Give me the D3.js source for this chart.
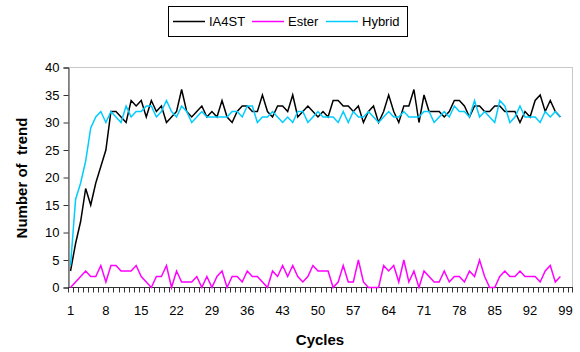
<!DOCTYPE html>
<html>
<head>
<meta charset="utf-8">
<script src="https://cdn.jsdelivr.net/npm/d3@7"></script>
<style>
    body { margin: 0; background: #fff; }
    svg { display: block; font-family: "Liberation Sans", Arial, sans-serif; }
</style>
</head>
<body>
<div id="chart"></div>
<script>
// category axis has 100 slots, the series fill the first 98
const cycles = d3.range(1, 101);
const tickLabels = ["1", "8", "15", "22", "29", "36", "43", "50", "57", "64", "71", "78", "85", "92", "99"];
const yTicks = [0, 5, 10, 15, 20, 25, 30, 35, 40];

const ia4st = [
    3, 8, 12, 18, 15, 19, 22, 25, 32, 32,
    31, 30, 34, 33, 34, 31, 34, 32, 33, 30,
    31, 32, 36, 32, 31, 32, 33, 31, 32, 31,
    34, 31, 30, 32, 33, 33, 32, 32, 35, 32,
    31, 33, 33, 32, 35, 31, 32, 33, 32, 31,
    32, 31, 34, 34, 33, 33, 32, 33, 30, 32,
    33, 30, 32, 35, 32, 30, 33, 33, 36, 30,
    35, 32, 32, 32, 31, 32, 34, 34, 33, 31,
    33, 33, 32, 32, 33, 33, 32, 32, 32, 30,
    32, 31, 34, 35, 32, 34, 32, 31
];
const ester = [
    0, 1, 2, 3, 2, 2, 4, 1, 4, 4,
    3, 3, 3, 4, 2, 1, 0, 2, 2, 4,
    0, 3, 1, 1, 1, 2, 0, 2, 0, 2,
    3, 0, 2, 2, 1, 3, 2, 2, 1, 0,
    3, 2, 4, 2, 4, 2, 1, 2, 4, 3,
    3, 3, 0, 1, 4, 1, 1, 5, 1, 0,
    0, 0, 4, 3, 4, 1, 5, 1, 3, 0,
    3, 2, 1, 1, 3, 1, 2, 2, 1, 3,
    2, 5, 2, 0, 0, 2, 3, 2, 2, 3,
    2, 2, 2, 1, 3, 4, 1, 2
];
const hybrid = [
    4, 16, 19, 23, 29, 31, 32, 30, 32, 31,
    30, 33, 31, 32, 32, 33, 33, 31, 32, 34,
    32, 31, 33, 32, 30, 31, 32, 31, 31, 31,
    31, 31, 32, 32, 31, 33, 33, 30, 31, 31,
    32, 31, 30, 31, 30, 32, 32, 30, 31, 32,
    31, 31, 31, 30, 32, 30, 32, 31, 31, 32,
    31, 30, 31, 32, 31, 31, 32, 31, 31, 31,
    32, 32, 30, 31, 32, 31, 33, 32, 32, 31,
    34, 31, 32, 31, 30, 34, 33, 30, 31, 33,
    31, 31, 31, 30, 32, 31, 32, 31
];

const series = [
    { name: "IA4ST", values: ia4st, color: "#000000" },
    { name: "Ester", values: ester, color: "#ff00ff" },
    { name: "Hybrid", values: hybrid, color: "#00ccff" }
];

const width = 580, height = 352;
const margin = { top: 67, right: 7, bottom: 64, left: 68 };

const svg = d3.select("#chart").append("svg")
    .attr("width", width)
    .attr("height", height);

const x = d3.scaleBand().domain(cycles).range([margin.left, width - margin.right]).padding(0);
const y = d3.scaleLinear().domain([0, 40]).range([height - margin.bottom - 0.5, margin.top + 0.5]);
const cx = (i) => x(i) + x.bandwidth() / 2;

// plot area border
svg.append("rect")
    .attr("x", margin.left + 0.5)
    .attr("y", margin.top + 0.5)
    .attr("width", width - margin.left - margin.right - 1)
    .attr("height", height - margin.top - margin.bottom - 1)
    .attr("fill", "none")
    .attr("stroke", "#c8c8c8");

// y axis
const yAxis = svg.append("g")
    .attr("transform", `translate(${margin.left + 0.5},0)`)
    .call(d3.axisLeft(y).tickValues(yTicks).tickSize(5).tickPadding(4));
yAxis.select(".domain").attr("stroke", "#333");
yAxis.selectAll(".tick line").attr("stroke", "#333");
yAxis.selectAll("text").attr("font-size", 13).attr("fill", "#000")
    .attr("font-family", "Liberation Sans, Arial, sans-serif");

// x axis: tick at every category boundary, labels every 7th cycle
const xBase = y(0);
const xAxis = svg.append("g");
xAxis.append("line")
    .attr("x1", margin.left).attr("x2", width - margin.right)
    .attr("y1", xBase).attr("y2", xBase)
    .attr("stroke", "#333");
xAxis.selectAll("line.tick")
    .data(cycles.concat([null]))
    .join("line")
    .attr("class", "tick")
    .attr("x1", (d) => d === null ? width - margin.right - 0.5 : Math.round(x(d)) + 0.5)
    .attr("x2", (d) => d === null ? width - margin.right - 0.5 : Math.round(x(d)) + 0.5)
    .attr("y1", xBase)
    .attr("y2", xBase + 5)
    .attr("stroke", "#333");
xAxis.selectAll("text")
    .data(tickLabels)
    .join("text")
    .attr("x", (d) => cx(+d))
    .attr("y", xBase + 27)
    .attr("text-anchor", "middle")
    .attr("font-size", 13)
    .text((d) => d);

// series lines
const line = d3.line()
    .x((_, i) => cx(cycles[i]))
    .y((d) => y(d));

svg.selectAll("path.series")
    .data(series)
    .join("path")
    .attr("class", "series")
    .attr("fill", "none")
    .attr("stroke", (d) => d.color)
    .attr("stroke-width", 1.5)
    .attr("stroke-linejoin", "miter")
    .attr("d", (d) => line(d.values));

// axis titles
svg.append("text")
    .attr("x", 320)
    .attr("y", 345)
    .attr("text-anchor", "middle")
    .attr("font-size", 15)
    .attr("font-weight", "bold")
    .text("Cycles");

svg.append("text")
    .attr("transform", "translate(27,178) rotate(-90)")
    .attr("text-anchor", "middle")
    .attr("font-size", 15)
    .attr("font-weight", "bold")
    .style("white-space", "pre")
    .text("Number of  trend");

// legend
const legend = svg.append("g").attr("transform", "translate(168,6)");
legend.append("rect")
    .attr("x", 0.5).attr("y", 0.5)
    .attr("width", 239).attr("height", 30)
    .attr("fill", "#fff")
    .attr("stroke", "#000");

const itemX = [5, 84, 158];
const item = legend.selectAll("g.item")
    .data(series)
    .join("g")
    .attr("class", "item")
    .attr("transform", (_, i) => `translate(${itemX[i]},0)`);
item.append("line")
    .attr("x1", 0).attr("x2", 32)
    .attr("y1", 15.5).attr("y2", 15.5)
    .attr("stroke", (d) => d.color)
    .attr("stroke-width", 1.5);
item.append("text")
    .attr("x", 36)
    .attr("y", 20)
    .attr("font-size", 13)
    .text((d) => d.name);
</script>
</body>
</html>
